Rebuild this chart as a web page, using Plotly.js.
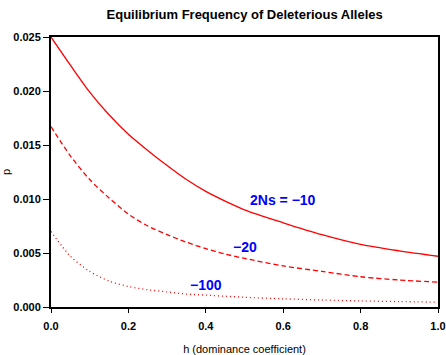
<!DOCTYPE html>
<html>
<head>
<meta charset="utf-8">
<script src="https://cdn.plot.ly/plotly-3.0.1.min.js"></script>
<style>html,body{margin:0;padding:0;background:#fff;}#chart{width:446px;height:355px;}</style>
</head>
<body>
<div id="chart"></div>
<script>
// h values (dominance coefficient)
const h = [0, 0.05, 0.1, 0.15, 0.2, 0.25, 0.3, 0.35, 0.4, 0.45, 0.5, 0.6, 0.7, 0.8, 0.9, 1.0];
// equilibrium frequency p for 2Ns = -10, -20, -100
const p10  = [0.0250, 0.0224, 0.0199, 0.0178, 0.0160, 0.0145, 0.0131, 0.0118, 0.0107, 0.0098, 0.0090, 0.0078, 0.0067, 0.0058, 0.0052, 0.0047];
const p20  = [0.0167, 0.0140, 0.0118, 0.0101, 0.0086, 0.0075, 0.0067, 0.0060, 0.0054, 0.0049, 0.0045, 0.0038, 0.0033, 0.0028, 0.0025, 0.0023];
const p100 = [0.0070, 0.0047, 0.0033, 0.0024, 0.0019, 0.0016, 0.0014, 0.0012, 0.0011, 0.0010, 0.0009, 0.00076, 0.00065, 0.00056, 0.0005, 0.00045];
const labels = ["2Ns = \u221210", "\u221220", "\u2212100"];
const labelX = [0.60, 0.50, 0.40];
const labelY = [0.0099, 0.0056, 0.0020];

const red = "#ff0000";
const traces = [
  {x: h, y: p10, mode: "lines", line: {color: red, width: 1.3, shape: "spline", smoothing: 0.8}},
  {x: h, y: p20, mode: "lines", line: {color: red, width: 1.3, dash: "5px,3px", shape: "spline", smoothing: 0.8}},
  {x: h, y: p100, mode: "lines", line: {color: red, width: 1.3, dash: "1px,3px", shape: "spline", smoothing: 0.8}}
];
const font = "Liberation Sans, Arial, sans-serif";
const layout = {
  width: 446, height: 355,
  margin: {l: 51, r: 8, t: 37, b: 48},
  showlegend: false,
  paper_bgcolor: "#fff", plot_bgcolor: "#fff",
  title: {text: "Equilibrium Frequency of Deleterious Alleles", font: {family: font, size: 13, color: "#000", weight: "bold"}, x: 0.5485, xanchor: "center", y: 0.96, yanchor: "middle"},
  xaxis: {
    range: [0, 1], tickvals: [0, 0.2, 0.4, 0.6, 0.8, 1.0], tickformat: ".1f",
    showgrid: false, zeroline: false, showline: true, mirror: true, linecolor: "#000", linewidth: 2,
    ticks: "outside", ticklen: 4, tickwidth: 1, tickcolor: "#000", ticklabelstandoff: 4,
    tickfont: {family: font, size: 11, color: "#000", weight: "bold"},
    title: {text: "h (dominance coefficient)", font: {family: font, size: 11, color: "#000"}, standoff: 14}
  },
  yaxis: {
    range: [0, 0.025], tickvals: [0, 0.005, 0.01, 0.015, 0.02, 0.025], tickformat: ".3f",
    showgrid: false, zeroline: false, showline: true, mirror: true, linecolor: "#000", linewidth: 2,
    ticks: "outside", ticklen: 6, tickwidth: 1, tickcolor: "#000",
    tickfont: {family: font, size: 11, color: "#000", weight: "bold"},
    title: {text: "p", font: {family: font, size: 11, color: "#000"}, standoff: 0}
  },
  annotations: labels.map((t, i) => ({
    x: labelX[i], y: labelY[i], xref: "x", yref: "y", text: t, showarrow: false,
    font: {family: font, size: 14, color: "#0000ff", weight: "bold"}
  }))
};
Plotly.newPlot("chart", traces, layout, {displayModeBar: false, staticPlot: true});
</script>
</body>
</html>
